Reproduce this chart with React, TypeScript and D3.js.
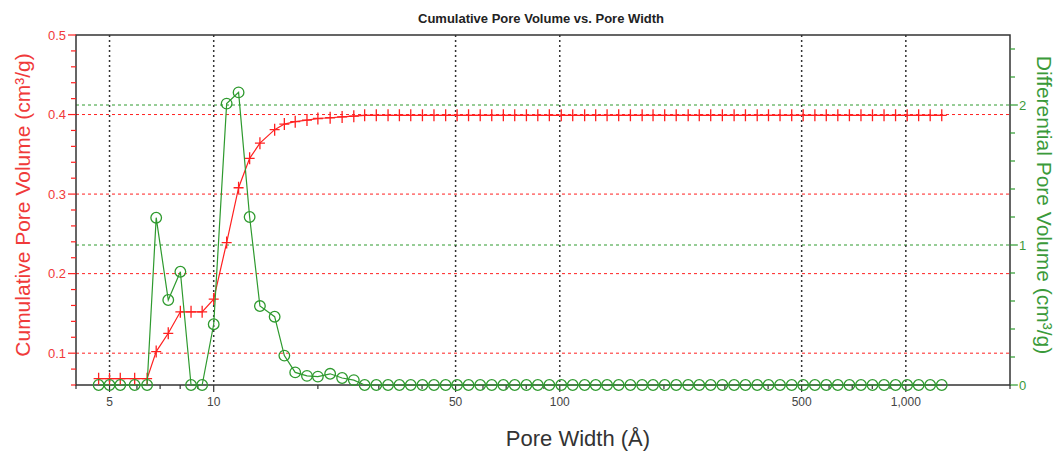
import React, { useRef, useEffect } from "react";
import * as d3 from "d3";

// pore width (Å)
const poreWidth = [
  4.65, 5.0, 5.37, 5.91, 6.42, 6.82, 7.39, 8.01, 8.6, 9.26,
  10.0, 10.9, 11.8, 12.7, 13.6, 15.0, 16.0, 17.2, 18.6, 20.0,
  21.7, 23.5, 25.4, 27.3, 29.5, 31.9, 34.4, 37.1, 40.1, 43.3,
  46.8, 50.5, 54.5, 58.9, 63.6, 68.7, 74.1, 80.1, 86.4, 93.3,
  101, 109, 118, 127, 137, 148, 160, 173, 186, 201,
  217, 235, 253, 273, 295, 319, 344, 372, 401, 433,
  468, 505, 546, 589, 636, 687, 742, 801, 865, 934,
  1009, 1089, 1176, 1270,
];

// cumulative pore volume (cm³/g)
const cumulativeVolume = [
  0.068, 0.068, 0.068, 0.068, 0.068, 0.102, 0.125, 0.152, 0.152, 0.152,
  0.168, 0.239, 0.308, 0.345, 0.364, 0.381, 0.388, 0.391, 0.393, 0.395,
  0.396, 0.397, 0.398, 0.399, 0.399, 0.399, 0.399, 0.399, 0.399, 0.399,
  0.399, 0.399, 0.399, 0.399, 0.399, 0.399, 0.399, 0.399, 0.399, 0.399,
  0.399, 0.399, 0.399, 0.399, 0.399, 0.399, 0.399, 0.399, 0.399, 0.399,
  0.399, 0.399, 0.399, 0.399, 0.399, 0.399, 0.399, 0.399, 0.399, 0.399,
  0.399, 0.399, 0.399, 0.399, 0.399, 0.399, 0.399, 0.399, 0.399, 0.399,
  0.399, 0.399, 0.399, 0.399,
];

// differential pore volume (cm³/g)
const differentialVolume = [
  0, 0, 0, 0, 0, 1.195, 0.607, 0.809, 0, 0,
  0.434, 2.01, 2.09, 1.2, 0.564, 0.488, 0.21, 0.09, 0.065, 0.06,
  0.08, 0.05, 0.035, 0, 0, 0, 0, 0, 0, 0,
  0, 0, 0, 0, 0, 0, 0, 0, 0, 0,
  0, 0, 0, 0, 0, 0, 0, 0, 0, 0,
  0, 0, 0, 0, 0, 0, 0, 0, 0, 0,
  0, 0, 0, 0, 0, 0, 0, 0, 0, 0,
  0, 0, 0, 0,
];

const xMajorTicks = [5, 10, 50, 100, 500, 1000];
const leftMajorTicks = [0.1, 0.2, 0.3, 0.4, 0.5];
const rightMajorTicks = [0, 1, 2];

const RED = "#ff2020";
const RED_TEXT = "#f03a3a";
const GREEN = "#2e9a2e";
const GREEN_TEXT = "#3a9a3a";
const DARK = "#333";
const FONT = "'Liberation Sans', Arial, sans-serif";

const PoreChart = () => {
  const svgRef = useRef(null);

  useEffect(() => {
    const width = 1059;
    const height = 452;
    const margin = { top: 35, right: 49, bottom: 67, left: 76 };
    const innerW = width - margin.left - margin.right;
    const innerH = height - margin.top - margin.bottom;

    const svg = d3.select(svgRef.current);
    svg.selectAll("*").remove();
    svg.attr("width", width).attr("height", height);

    const x = d3.scaleLog().domain([4, 2000]).range([0, innerW]);
    const yLeft = d3.scaleLinear().domain([0.06, 0.5]).range([innerH, 0]);
    const yRight = d3.scaleLinear().domain([0, 2.5]).range([innerH, 0]);

    const data = poreWidth.map((w, i) => ({
      w,
      cum: cumulativeVolume[i],
      diff: differentialVolume[i],
    }));

    // title
    svg.append("text")
      .attr("x", 541)
      .attr("y", 23)
      .attr("text-anchor", "middle")
      .style("font-family", FONT)
      .style("font-size", "13px")
      .style("font-weight", "bold")
      .attr("fill", "#222")
      .text("Cumulative Pore Volume vs. Pore Width");

    const g = svg.append("g")
      .attr("transform", `translate(${margin.left},${margin.top})`);

    // grid: red dashed (left), green dashed (right), black dotted (x)
    g.selectAll(".grid-left")
      .data(leftMajorTicks.filter(d => d < 0.5))
      .enter().append("line")
      .attr("x1", 0).attr("x2", innerW)
      .attr("y1", d => yLeft(d)).attr("y2", d => yLeft(d))
      .attr("stroke", RED).attr("stroke-width", 1)
      .attr("stroke-dasharray", "3,3");

    g.selectAll(".grid-right")
      .data(rightMajorTicks.filter(d => d > 0))
      .enter().append("line")
      .attr("x1", 0).attr("x2", innerW)
      .attr("y1", d => yRight(d)).attr("y2", d => yRight(d))
      .attr("stroke", GREEN).attr("stroke-width", 1)
      .attr("stroke-dasharray", "3,3");

    g.selectAll(".grid-x")
      .data(xMajorTicks)
      .enter().append("line")
      .attr("x1", d => x(d)).attr("x2", d => x(d))
      .attr("y1", 0).attr("y2", innerH)
      .attr("stroke", DARK).attr("stroke-width", 1.5)
      .attr("stroke-dasharray", "2,3");

    // frame
    g.append("rect")
      .attr("x", 0).attr("y", 0)
      .attr("width", innerW).attr("height", innerH)
      .attr("fill", "none")
      .attr("stroke", DARK)
      .attr("stroke-width", 1.5);

    // left axis ticks + labels
    const leftAxis = g.append("g");
    leftAxis.selectAll("line")
      .data(yLeft.ticks(22))
      .enter().append("line")
      .attr("x1", d => (leftMajorTicks.some(t => Math.abs(t - d) < 1e-6) ? -8 : -5))
      .attr("x2", 0)
      .attr("y1", d => yLeft(d)).attr("y2", d => yLeft(d))
      .attr("stroke", RED).attr("stroke-width", 1.2);
    leftAxis.selectAll("text")
      .data(leftMajorTicks)
      .enter().append("text")
      .attr("x", -10)
      .attr("y", d => yLeft(d))
      .attr("dy", "0.35em")
      .attr("text-anchor", "end")
      .style("font-family", FONT)
      .style("font-size", "13px")
      .attr("fill", RED_TEXT)
      .text(d3.format(".1f"));

    // right axis ticks + labels
    const rightAxis = g.append("g").attr("transform", `translate(${innerW},0)`);
    rightAxis.selectAll("line")
      .data(yRight.ticks(12))
      .enter().append("line")
      .attr("x1", 0)
      .attr("x2", d => (rightMajorTicks.includes(d) ? 8 : 5))
      .attr("y1", d => yRight(d)).attr("y2", d => yRight(d))
      .attr("stroke", GREEN).attr("stroke-width", 1.2);
    rightAxis.selectAll("text")
      .data(rightMajorTicks)
      .enter().append("text")
      .attr("x", 9)
      .attr("y", d => yRight(d))
      .attr("dy", "0.35em")
      .style("font-family", FONT)
      .style("font-size", "13px")
      .attr("fill", GREEN_TEXT)
      .text(d => String(d));

    // bottom axis ticks + labels
    const bottomAxis = g.append("g").attr("transform", `translate(0,${innerH})`);
    bottomAxis.selectAll("line")
      .data(x.ticks())
      .enter().append("line")
      .attr("x1", d => x(d)).attr("x2", d => x(d))
      .attr("y1", 0)
      .attr("y2", d => (xMajorTicks.includes(d) ? 7 : 4))
      .attr("stroke", DARK).attr("stroke-width", 1.2);
    bottomAxis.selectAll("text")
      .data(xMajorTicks)
      .enter().append("text")
      .attr("x", d => x(d))
      .attr("y", 21)
      .attr("text-anchor", "middle")
      .style("font-family", FONT)
      .style("font-size", "12px")
      .attr("fill", "#444")
      .text(d3.format(","));

    // axis titles
    svg.append("text")
      .attr("transform", `translate(30,${margin.top + innerH / 2 - 5}) rotate(-90)`)
      .attr("text-anchor", "middle")
      .style("font-family", FONT)
      .style("font-size", "21px")
      .attr("fill", RED_TEXT)
      .text("Cumulative Pore Volume (cm³/g)");

    svg.append("text")
      .attr("transform", `translate(1037,${margin.top + innerH / 2 - 5}) rotate(90)`)
      .attr("text-anchor", "middle")
      .style("font-family", FONT)
      .style("font-size", "21px")
      .attr("fill", GREEN_TEXT)
      .text("Differential Pore Volume (cm³/g)");

    svg.append("text")
      .attr("x", margin.left + innerW / 2 + 35)
      .attr("y", 446)
      .attr("text-anchor", "middle")
      .style("font-family", FONT)
      .style("font-size", "22px")
      .attr("fill", "#333")
      .text("Pore Width (Å)");

    // cumulative series (red, + markers)
    const cumLine = d3.line()
      .x(d => x(d.w))
      .y(d => yLeft(d.cum));
    g.append("path")
      .datum(data)
      .attr("d", cumLine)
      .attr("fill", "none")
      .attr("stroke", RED)
      .attr("stroke-width", 1.2);
    g.selectAll(".cross")
      .data(data)
      .enter().append("path")
      .attr("transform", d => `translate(${x(d.w)},${yLeft(d.cum)})`)
      .attr("d", "M-5,0H5M0,-6V6")
      .attr("stroke", RED)
      .attr("stroke-width", 1.3)
      .attr("fill", "none");

    // differential series (green, circles)
    const diffLine = d3.line()
      .x(d => x(d.w))
      .y(d => yRight(d.diff));
    g.append("path")
      .datum(data)
      .attr("d", diffLine)
      .attr("fill", "none")
      .attr("stroke", GREEN)
      .attr("stroke-width", 1.2);
    g.selectAll(".circle")
      .data(data)
      .enter().append("circle")
      .attr("cx", d => x(d.w))
      .attr("cy", d => yRight(d.diff))
      .attr("r", 5.3)
      .attr("fill", "none")
      .attr("stroke", GREEN)
      .attr("stroke-width", 1.3);
  }, []);

  return (
    <svg
      ref={svgRef}
      style={{ position: "fixed", left: 0, top: 0, background: "#fff", display: "block" }}
    />
  );
};

export default function App() {
  return <PoreChart />;
}
